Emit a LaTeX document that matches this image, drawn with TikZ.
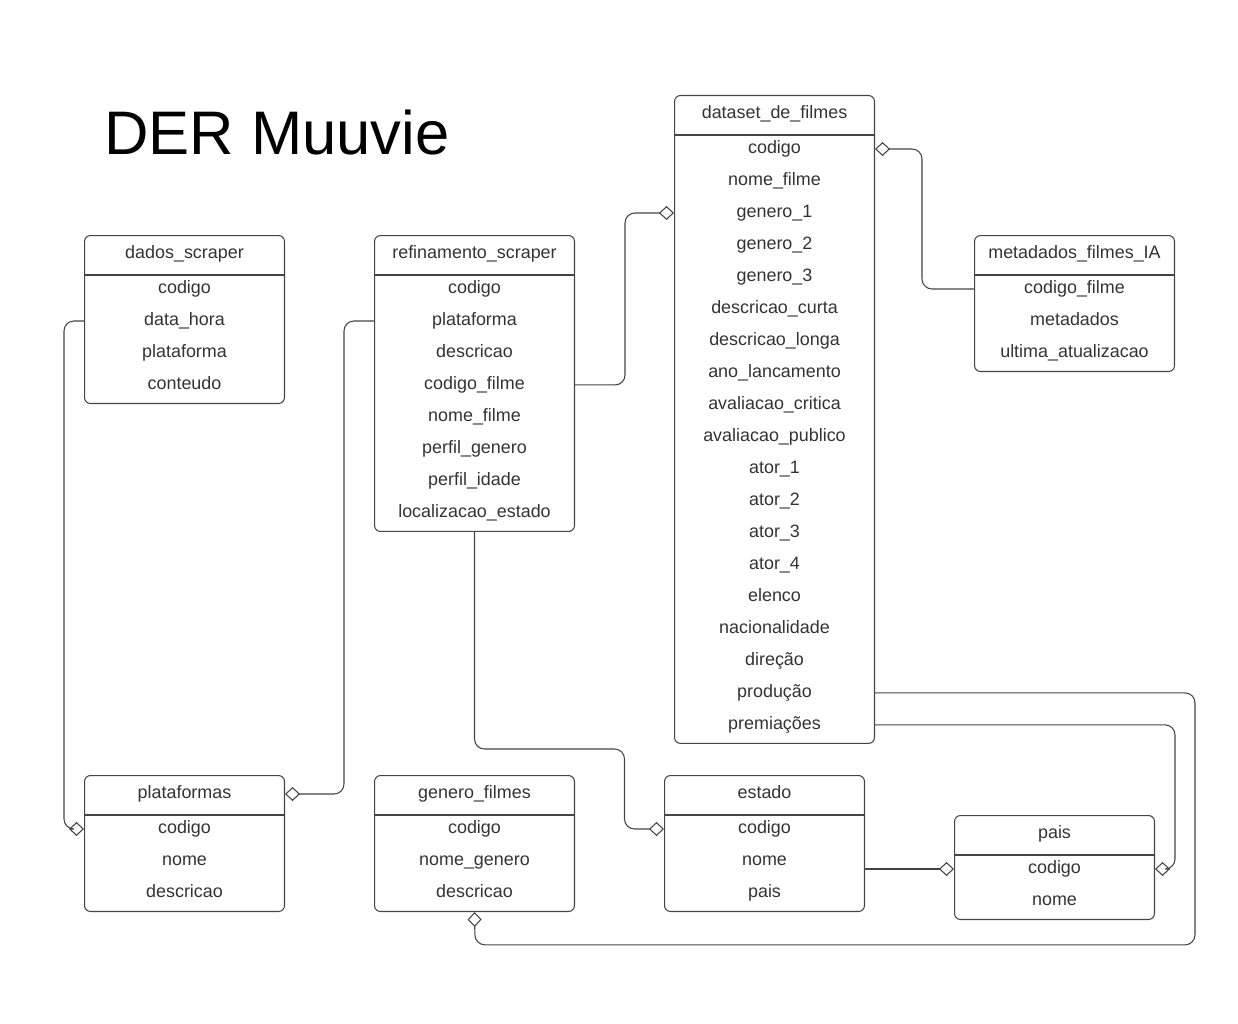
\documentclass[tikz,border=0pt]{standalone}
\usepackage{fontspec}
\setmainfont{Liberation Sans}
\usetikzlibrary{arrows.meta}
\definecolor{linha}{HTML}{444444}
\definecolor{texto}{HTML}{333333}

\tikzset{
  tabela/.style={draw=linha, line width=0.6pt, rounded corners=0.12cm,
    minimum width=4cm, inner sep=0pt},
  campo/.style={text=texto, font=\fontsize{10.2}{12}\selectfont, inner sep=0pt,
    text height=8pt, text depth=2.6pt},
  relacao/.style={draw=linha, line width=0.6pt, rounded corners=0.2cm,
    -{Diamond[open, length=0.3cm, width=0.28cm]}},
}

% nome, canto, linhas, titulo, campos
\newcommand{\entidade}[5]{%
  \node[tabela, anchor=north west, minimum height={0.8cm+#3*0.64cm}] (#1) at (#2) {};
  \node[campo] (#1-t) at ([yshift=-0.38cm]#1.north) {#4};
  \draw[draw=linha, line width=0.6pt] ([yshift=-0.8cm]#1.north west) -- ([yshift=-0.8cm]#1.north east);
  \foreach \c [count=\i] in {#5}
    \node[campo] (#1-\i) at ([yshift={-1.08cm-0.64cm*(\i-1)}]#1.north) {\c};
}

\begin{document}
\begin{tikzpicture}[x=0.02cm, y=-0.02cm]
  \useasboundingbox (0,0) rectangle (1238,1024);

  \node[anchor=west, inner sep=0pt, font=\fontsize{35}{42}\selectfont] (titulo) at (104,133) {DER Muuvie};

  \entidade{dados}{84,235}{4}{dados\_scraper}{codigo,data\_hora,plataforma,conteudo}
  \entidade{refino}{374,235}{8}{refinamento\_scraper}{codigo,plataforma,descricao,codigo\_filme,nome\_filme,perfil\_genero,perfil\_idade,localizacao\_estado}
  \entidade{filmes}{674,95}{19}{dataset\_de\_filmes}{codigo,nome\_filme,genero\_1,genero\_2,genero\_3,descricao\_curta,descricao\_longa,ano\_lancamento,avaliacao\_critica,avaliacao\_publico,ator\_1,ator\_2,ator\_3,ator\_4,elenco,nacionalidade,direção,produção,premiações}
  \entidade{meta}{974,235}{3}{metadados\_filmes\_IA}{codigo\_filme,metadados,ultima\_atualizacao}
  \entidade{plataformas}{84,775}{3}{plataformas}{codigo,nome,descricao}
  \entidade{genero}{374,775}{3}{genero\_filmes}{codigo,nome\_genero,descricao}
  \entidade{estado}{664,775}{3}{estado}{codigo,nome,pais}
  \entidade{pais}{954,815}{2}{pais}{codigo,nome}

  % relacionamentos
  \draw[relacao] (dados-2 -| dados.west) -- ++(-20,0) |- (plataformas-1 -| plataformas.west);
  \draw[relacao] (refino-2 -| refino.west) -- ++(-30,0) |- (plataformas-t -| plataformas.east);
  \draw[relacao] (refino-4 -| refino.east) -- ++(50,0) |- (filmes-3 -| filmes.west);
  \draw[relacao] (meta-1 -| meta.west) -- ++(-52,0) |- (filmes-1 -| filmes.east);
  \draw[relacao] (refino.south) |- ++(150,217) |- (estado-1 -| estado.west);
  \draw[relacao] (estado.east |- pais-1) -- (pais-1 -| pais.west);
  \draw[relacao] (filmes-19 -| filmes.east) -- ++(300,0) |- (pais-1 -| pais.east);
  \draw[relacao] (filmes-18 -| filmes.east) -- ++(320,0) |- ++(-720,252) -- (genero.south);
\end{tikzpicture}
\end{document}
